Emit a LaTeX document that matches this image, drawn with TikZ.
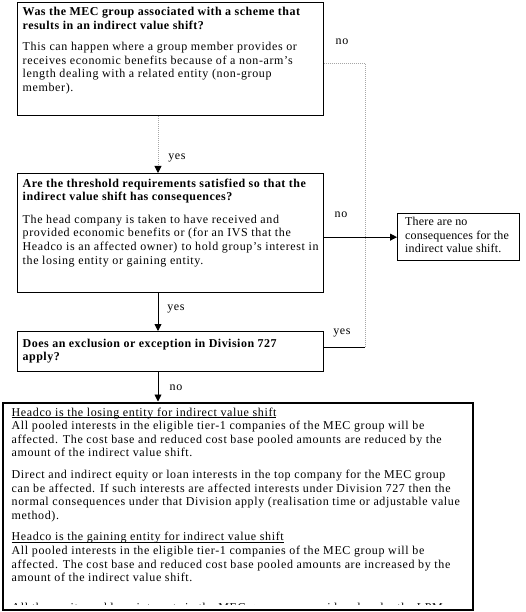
\documentclass[tikz,border=0pt]{standalone}
\usepackage{fontspec}
\setmainfont{Liberation Serif}[LetterSpace=5.2,BoldFeatures={LetterSpace=4}]
\newfontfamily\boxfont{Liberation Serif}[LetterSpace=1.5]
\usetikzlibrary{arrows.meta,calc}
\newlength\ulwd
\newcommand\ulin[1]{\settowidth{\ulwd}{#1}\rlap{\rule[-1.7pt]{\ulwd}{0.6pt}}#1}
\begin{document}
\begin{tikzpicture}[x=1pt,y=-1pt,
  box/.style={draw=black,line width=1.3pt,rectangle,inner sep=0pt,anchor=north west},
  bigbox/.style={box,line width=2.6pt},
  txt/.style={anchor=north west,inner sep=0pt,align=left,font=\fontsize{12}{13.6}\selectfont},
  lbl/.style={inner sep=0pt,font=\fontsize{12}{13.6}\selectfont},
  tip/.style={-{Triangle[width=7pt,length=7pt,black]}},
  conn/.style={line width=0.9pt,black},
  dotconn/.style={line width=0.9pt,gray!70,dash pattern=on 1pt off 1pt}]
\useasboundingbox (0,0) rectangle (525,612);
\fill[white] (0,0) rectangle (525,612);
% boxes
\node[box,minimum width=306pt,minimum height=113pt] (b1) at (17,2) {};
\node[box,minimum width=306pt,minimum height=119pt] (b2) at (17,173) {};
\node[box,minimum width=306pt,minimum height=40pt] (b3) at (17,331) {};
\node[box,minimum width=122pt,minimum height=47pt] (b5) at (397,213) {};
% texts
\node[txt] (t1) at (22.5,7) {\textbf{Was the MEC group associated with a scheme that}\\
\textbf{results in an indirect value shift?}\\[8pt]
This can happen where a group member provides or\\
receives economic benefits because of a non-arm’s\\
length dealing with a related entity (non-group\\
member).};
\node[txt] (t2) at (22.5,178.5) {\textbf{Are the threshold requirements satisfied so that the}\\
\textbf{indirect value shift has consequences?}\\[9pt]
The head company is taken to have received and\\
provided economic benefits or (for an IVS that the\\
Headco is an affected owner)\ \hspace{0.5pt}to hold group’s interest in\\
the losing entity or gaining entity.};
\node[txt] (t3) at (22.5,338.5) {\textbf{Does an exclusion or exception in Division 727}\\
\textbf{apply?}};
\node[txt,font=\boxfont\fontsize{12}{13.6}\selectfont] (t5) at (405,217) {There are no\\consequences for the\\indirect value shift.};
% big bottom box with clipped content
\begin{scope}
\clip (2,402) rectangle (471,604.5);
\node[txt] (t4) at (11.5,407.5) {\ulin{Headco is the losing entity for indirect value shift}\\
All pooled interests in the eligible tier-1 companies of the MEC group will be\\
affected. The cost base and reduced cost base pooled amounts are reduced by the\\
amount of the indirect value shift.\\[8pt]
Direct and indirect equity or loan interests in the top company for the MEC group\\
can be affected. If such interests are affected interests under Division 727 then the\\
normal consequences under that Division apply (realisation time or adjustable value\\
method).\\[8pt]
\ulin{Headco is the gaining entity for indirect value shift}\\
All pooled interests in the eligible tier-1 companies of the MEC group will be\\
affected. The cost base and reduced cost base pooled amounts are increased by the\\
amount of the indirect value shift.};
\node[txt,anchor=base west] (t4b) at (11.5,611) {All the equity and loan interests in the MEC group are considered under the LPM};
\end{scope}
\node[bigbox,minimum width=470pt,minimum height=207pt] (b4) at (1.5,401.5) {};
% helper coordinates
\coordinate (ax) at (158,0);
\coordinate (rx) at (365,0);
\coordinate (ytop) at (0,63);
\coordinate (ybot) at (0,347);
\coordinate (c1) at (rx |- ytop);
\coordinate (c2) at (rx |- ybot);
% connectors
\draw[dotconn] (b1.south -| ax) -- ($(b2.north -| ax)+(0,-6)$);
\draw[conn,tip] ($(b2.north -| ax)+(0,-7)$) -- (b2.north -| ax);
\draw[conn,tip] (b2.south -| ax) -- (b3.north -| ax);
\draw[conn,tip] (b3.south -| ax) -- (b4.north -| ax);
\draw[conn,tip] (b5.west -| b2.east) -- (b5.west);
\draw[conn] (b3.east |- ybot) -- (c2);
\draw[dotconn] (c2) -- (c1) -- (b1.east |- ytop);
% labels
\node[lbl] (l1) at (177,158) {yes};
\node[lbl] (l2) at (176,309) {yes};
\node[lbl] (l3) at (176,388) {no};
\node[lbl] (l4) at (342,42) {no};
\node[lbl] (l5) at (341,215) {no};
\node[lbl] (l6) at (342,333) {yes};
\end{tikzpicture}
\end{document}
